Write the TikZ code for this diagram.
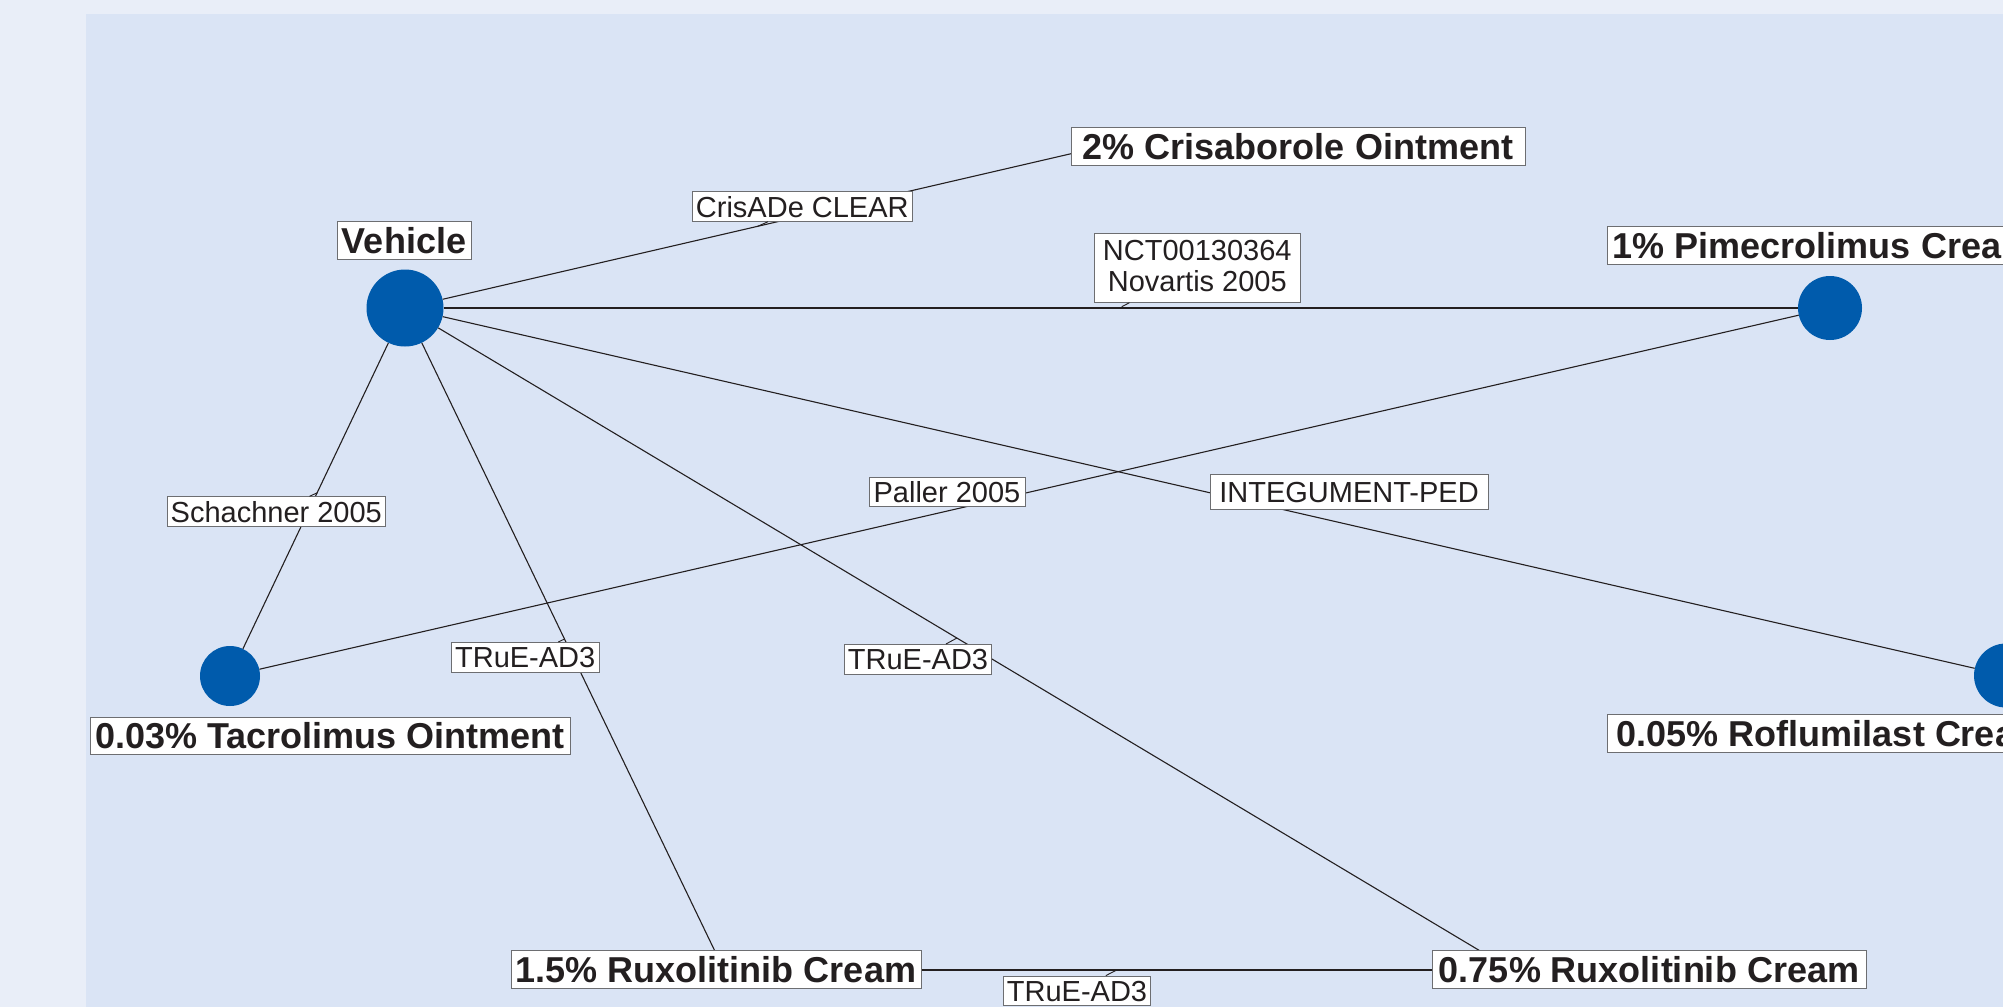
\documentclass[tikz,border=0pt]{standalone}
\usepackage{fontspec}
\setmainfont{Liberation Sans}
\definecolor{outerbg}{HTML}{E9EEF8}
\definecolor{innerbg}{HTML}{DAE4F5}
\definecolor{nodeblue}{HTML}{005BAC}
\definecolor{ink}{HTML}{231F20}
\definecolor{boxgray}{HTML}{6D6E71}
\begin{document}
\begin{tikzpicture}[x=1pt,y=-1pt,
  treat/.style={circle,fill=nodeblue,draw=none,inner sep=0pt},
  edge/.style={draw=ink,line width=1.1pt},
  thickedge/.style={draw=ink,line width=2.9pt},
  leader/.style={draw=ink,line width=0.9pt},
  tlabel/.style={draw=boxgray,fill=white,line width=0.9pt,text=ink,inner sep=0pt,
     font=\fontsize{36}{40}\selectfont\bfseries,text height=26pt,text depth=0pt,minimum height=38pt},
  slabelbase/.style={draw=boxgray,fill=white,line width=0.8pt,text=ink,inner sep=0pt,
     font=\fontsize{29}{30.7}\selectfont},
  slabel/.style={slabelbase,text height=21pt,text depth=0pt,minimum height=29.6pt}]
\useasboundingbox (0,0) rectangle (2003,1007);
\clip (0,0) rectangle (2003,1007);
\fill[outerbg] (0,0) rectangle (2003,1007);
\fill[innerbg] (86,14) rectangle (2003,1007);

% treatment nodes
\node[treat,minimum size=77pt] (veh) at (405,308) {};
\node[treat,minimum size=64pt] (pim) at (1830,308) {};
\node[treat,minimum size=60pt] (tac) at (230,676) {};
\node[treat,minimum size=64pt] (rof) at (2006,675.5) {};
\coordinate (cri) at (1100,147);
\coordinate (rux15) at (724,970);
\coordinate (rux075) at (1512,970);

% comparisons
\draw[edge] (veh) -- (cri);
\draw[thickedge] (veh) -- (pim);
\draw[edge] (veh) -- (tac);
\draw[edge] (veh) -- (rux15);
\draw[edge] (veh) -- (rux075);
\draw[edge] (veh) -- (rof);
\draw[edge] (tac) -- (pim);
\draw[edge] (rux15) -- (rux075);

% study labels
\node[slabel,minimum width=219.3pt] (lcris) at (802.3,206.5) {CrisADe CLEAR};
\node[slabelbase,align=center,minimum width=206.7pt,text height=58.2pt,text depth=10.8pt] (lnct) at (1197.3,267.8) {NCT00130364\\Novartis 2005};
\node[slabel,minimum width=218pt] (lsch) at (276.3,511.5) {Schachner 2005};
\node[slabel,minimum width=147.5pt,minimum height=30pt] (ltrue1) at (525.2,657.3) {TRuE-AD3};
\node[slabel,minimum width=147.2pt] (ltrue2) at (918,659.2) {TRuE-AD3};
\node[slabel,minimum width=156pt] (lpal) at (947,492) {Paller 2005};
\node[slabel,minimum width=278pt,minimum height=35pt] (linteg) at (1349,491.8) {INTEGUMENT-PED};
\node[slabel,minimum width=147.4pt,minimum height=29pt] (ltrue3) at (1077,990.5) {TRuE-AD3};

% leader segments
\coordinate (acris) at (757,226.6);
\coordinate (anct) at (1121.7,306.7);
\coordinate (asch) at (317.4,492.7);
\coordinate (atrue1) at (564.6,639);
\coordinate (atrue2) at (957,638);
\coordinate (atrue3) at (1116.7,970);
\draw[leader] (acris) -- (lcris);
\draw[leader] (anct) -- (lnct);
\draw[leader] (asch) -- (lsch);
\draw[leader] (atrue1) -- (ltrue1);
\draw[leader] (atrue2) -- (ltrue2);
\draw[leader] (atrue3) -- (ltrue3);

% treatment labels
\node[tlabel,minimum width=134pt] (lveh) at (404,240) {Vehicle};
\node[tlabel,minimum width=454pt] (lcri) at (1298,146) {2\% Crisaborole Ointment};
\node[tlabel,minimum width=432pt,minimum height=37.5pt] (lpim) at (1823,245.5) {1\% Pimecrolimus Cream};
\node[tlabel,minimum width=450pt] (lrof) at (1832,733) {0.05\% Roflumilast Cream};
\node[tlabel,minimum width=480pt,minimum height=37pt] (ltac) at (330,735.5) {0.03\% Tacrolimus Ointment};
\node[tlabel,minimum width=410pt] (lr15) at (716,969) {1.5\% Ruxolitinib Cream};
\node[tlabel,minimum width=434pt] (lr075) at (1649,969) {0.75\% Ruxolitinib Cream};
\end{tikzpicture}
\end{document}
